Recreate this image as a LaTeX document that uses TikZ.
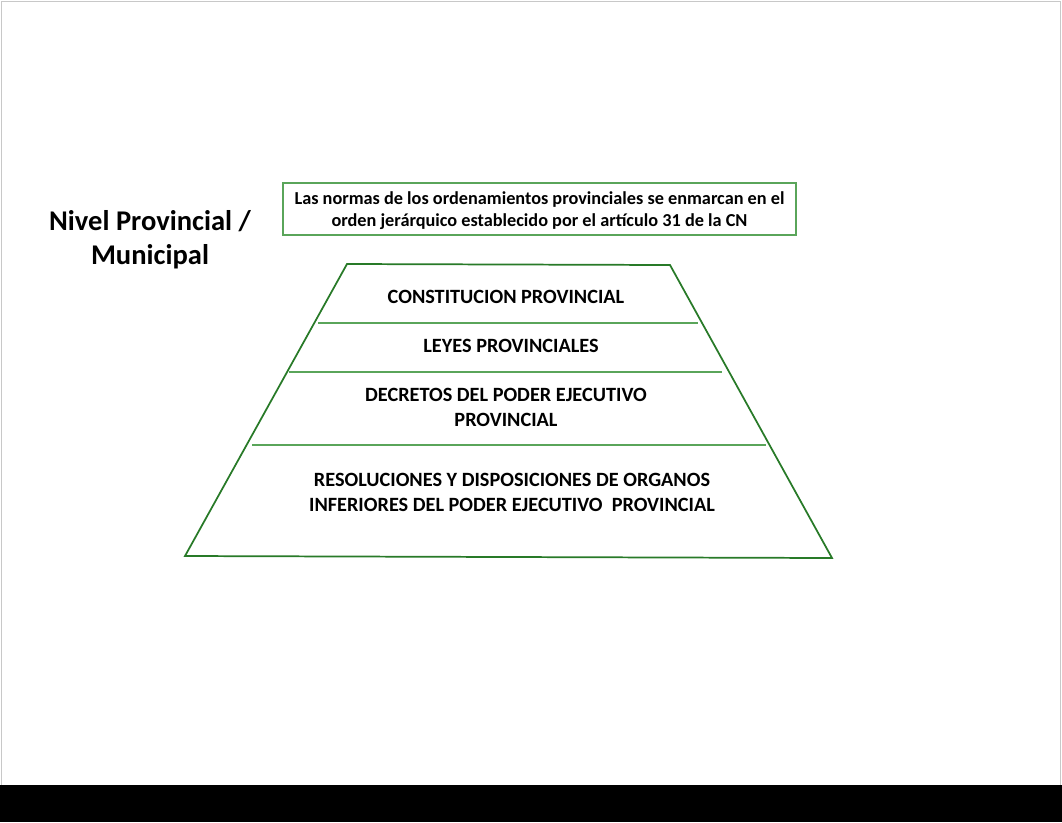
\documentclass[tikz,border=0pt]{standalone}
\usepackage{fontspec}
\setmainfont{Carlito}
\usetikzlibrary{positioning,calc}
\definecolor{pyrgreen}{RGB}{40,122,40}
\definecolor{rulegreen}{RGB}{90,165,90}
\definecolor{framegray}{RGB}{200,200,200}
\tikzstyle{levellabel}=[align=center,font=\bfseries\fontsize{15.2}{18.8}\selectfont,inner sep=0pt]
\tikzstyle{notebox}=[draw=rulegreen,thick,align=center,font=\bfseries\fontsize{13.7}{16.5}\selectfont,minimum width=513*0.75pt,minimum height=52*0.75pt,inner sep=0pt]
\tikzstyle{divider}=[rulegreen,line width=0.8pt]

\begin{document}
\begin{tikzpicture}[x=0.75pt,y=-0.75pt]
	\useasboundingbox (0,0) rectangle (1062,822);
	\fill[white] (0,0) rectangle (1062,785);
	\draw[framegray] (1.5,1.5) rectangle (1060.5,785);
	\fill[black] (0,785) rectangle (1062,822);

	% titulo
	\node[align=center,font=\bfseries\fontsize{21.4}{25.5}\selectfont,inner sep=0pt] (title) at (150,240) {Nivel Provincial /\\Municipal};

	% recuadro superior
	\node[notebox] (note) at (539.5,209) {};
	\node[align=center,font=\bfseries\fontsize{13.7}{16.5}\selectfont,inner sep=0pt] (notetext) at (539.5,211) {Las normas de los ordenamientos provinciales se enmarcan en el\\orden jerárquico establecido por el artículo 31 de la CN};

	% piramide
	\coordinate (tl) at (347,264);
	\coordinate (tr) at (670,265);
	\coordinate (bl) at (185,556);
	\coordinate (br) at (832,558);
	\draw[pyrgreen,line width=1.3pt] (tl) -- (tr) -- (br) -- (bl) -- cycle;

	\coordinate (d1l) at (318,323);
	\coordinate (d1r) at (698,323);
	\coordinate (d2l) at (289,372);
	\coordinate (d2r) at (722,372);
	\coordinate (d3l) at (252,445);
	\coordinate (d3r) at (766,445);
	\draw[divider] (d1l) -- (d1r);
	\draw[divider] (d2l) -- (d2r);
	\draw[divider] (d3l) -- (d3r);

	\node[levellabel] (level1) at (506,297) {CONSTITUCION PROVINCIAL};
	\node[levellabel] (level2) at (511,346) {LEYES PROVINCIALES};
	\node[levellabel] (level3) at (506,407) {DECRETOS DEL PODER EJECUTIVO\\PROVINCIAL};
	\node[levellabel] (level4) at (512,492) {RESOLUCIONES Y DISPOSICIONES DE ORGANOS\\INFERIORES DEL PODER EJECUTIVO\ \ PROVINCIAL};
\end{tikzpicture}
\end{document}
